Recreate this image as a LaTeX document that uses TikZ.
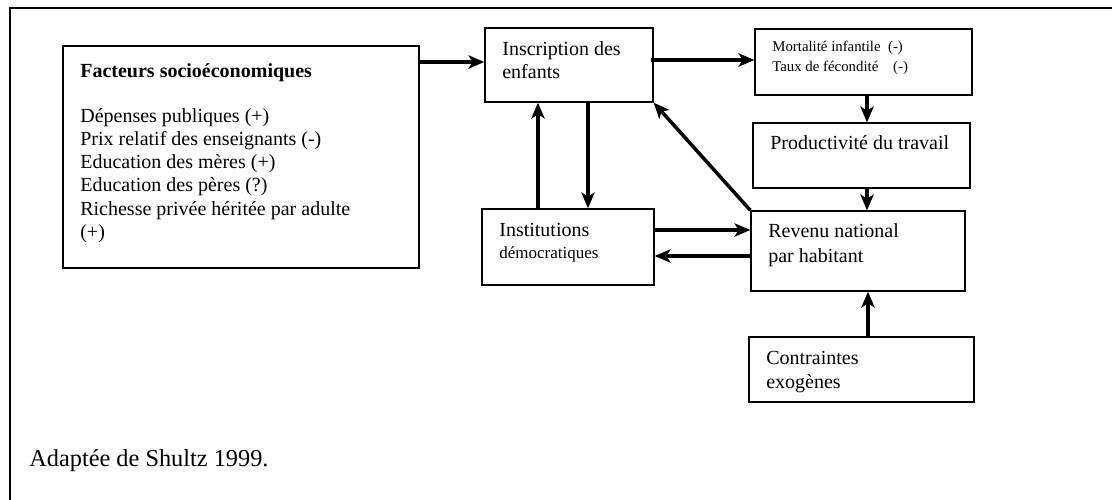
\documentclass[tikz,border=0pt]{standalone}
\usepackage{fontspec}
\setmainfont{Liberation Serif}
\usetikzlibrary{arrows.meta,calc,fit}
\begin{document}
\begin{tikzpicture}[x=0.6pt,y=-0.6pt,
  box/.style={draw, line width=0.8pt, inner sep=0pt},
  txt/.style={anchor=base west, inner sep=0pt, font=\fontsize{12}{13.8}\selectfont},
  small/.style={anchor=base west, inner sep=0pt, font=\fontsize{8.9}{10}\selectfont},
  smallb/.style={anchor=base west, inner sep=0pt, font=\fontsize{10.2}{11}\selectfont},
  arr/.style={line width=2.1pt, -{Stealth[length=9.5pt,width=8pt,inset=2.5pt]}},
]
\useasboundingbox (0,0) rectangle (1112,500);
\draw[line width=1.2pt] (1112,8) -- (10,8) -- (10,500);

% boxes
\node[box, fit={(63,46) (419,268)}] (fac) {};
\node[box, fit={(485,28) (653,102)}] (ins) {};
\node[box, fit={(482,209) (654,285)}] (inst) {};
\node[box, fit={(755,29) (972,95)}] (mort) {};
\node[box, fit={(753,123) (970,188)}] (prod) {};
\node[box, fit={(751,211) (965,291)}] (rev) {};
\node[box, fit={(749,337) (974,402)}] (con) {};

% texts
\node[txt, font=\fontsize{12}{13.8}\selectfont\bfseries] (facT) at (80,78) {Facteurs socioéconomiques};
\node[txt] (fac1) at (80,123) {Dépenses publiques (+)};
\node[txt] (fac2) at (80,146) {Prix relatif des enseignants (-)};
\node[txt] (fac3) at (80,169) {Education des mères (+)};
\node[txt] (fac4) at (80,192) {Education des pères (?)};
\node[txt] (fac5) at (80,215) {Richesse privée héritée par adulte};
\node[txt] (fac6) at (80,238) {(+)};

\node[txt] (ins1) at (502,56) {Inscription des};
\node[txt] (ins2) at (502,79) {enfants};

\node[txt] (inst1) at (499,236) {Institutions};
\node[smallb] (inst2) at (499,258) {démocratiques};

\node[small] (mort1) at (772,52) {Mortalité infantile\ \ (-)};
\node[small] (mort2) at (772,72) {Taux de fécondité\ \ \ \ (-)};

\node[txt] (prod1) at (770,150) {Productivité du travail};

\node[txt] (rev1) at (768,237) {Revenu national};
\node[txt] (rev2) at (768,262) {par habitant};

\node[txt] (con1) at (766,364) {Contraintes};
\node[txt] (con2) at (766,388) {exogènes};

\node[anchor=base west, inner sep=0pt, font=\fontsize{14.6}{17}\selectfont] (cap) at (29,466) {Adaptée de Shultz 1999.};

% arrow helper coordinates
\coordinate (a1) at ($(ins.west -| fac.east)+(0,-3)$);
\coordinate (a1e) at ($(ins.west)+(0,-3)$);
\coordinate (a2) at ($(ins.east)+(-3,-5)$);
\coordinate (a3) at ($(ins.south)+(19,0)$);
\coordinate (a4) at ($(inst.north)+(-30,0)$);
\coordinate (a5) at ($(inst.east)+(0,-17)$);
\coordinate (a6) at ($(inst.east)+(0,9)$);
\coordinate (a7) at ($(mort.south)+(3.5,0)$);
\coordinate (a8) at ($(prod.south)+(5.5,0)$);
\coordinate (a9) at ($(con.north)+(6.5,0)$);

% arrows
\draw[arr] (a1) -- (a1e);
\draw[arr] (a2) -- (a2 -| mort.west);
\draw[arr] (a3) -- (a3 |- inst.north);
\draw[arr] (a4) -- (a4 |- ins.south);
\draw[arr] (a5) -- (a5 -| rev.west);
\draw[arr] (a6 -| rev.west) -- (a6);
\draw[arr] (rev.north west) -- (ins.south east);
\draw[arr] (a7) -- (a7 |- prod.north);
\draw[arr] (a8) -- (a8 |- rev.north);
\draw[arr] (a9) -- (a9 |- rev.south);
\end{tikzpicture}
\end{document}
